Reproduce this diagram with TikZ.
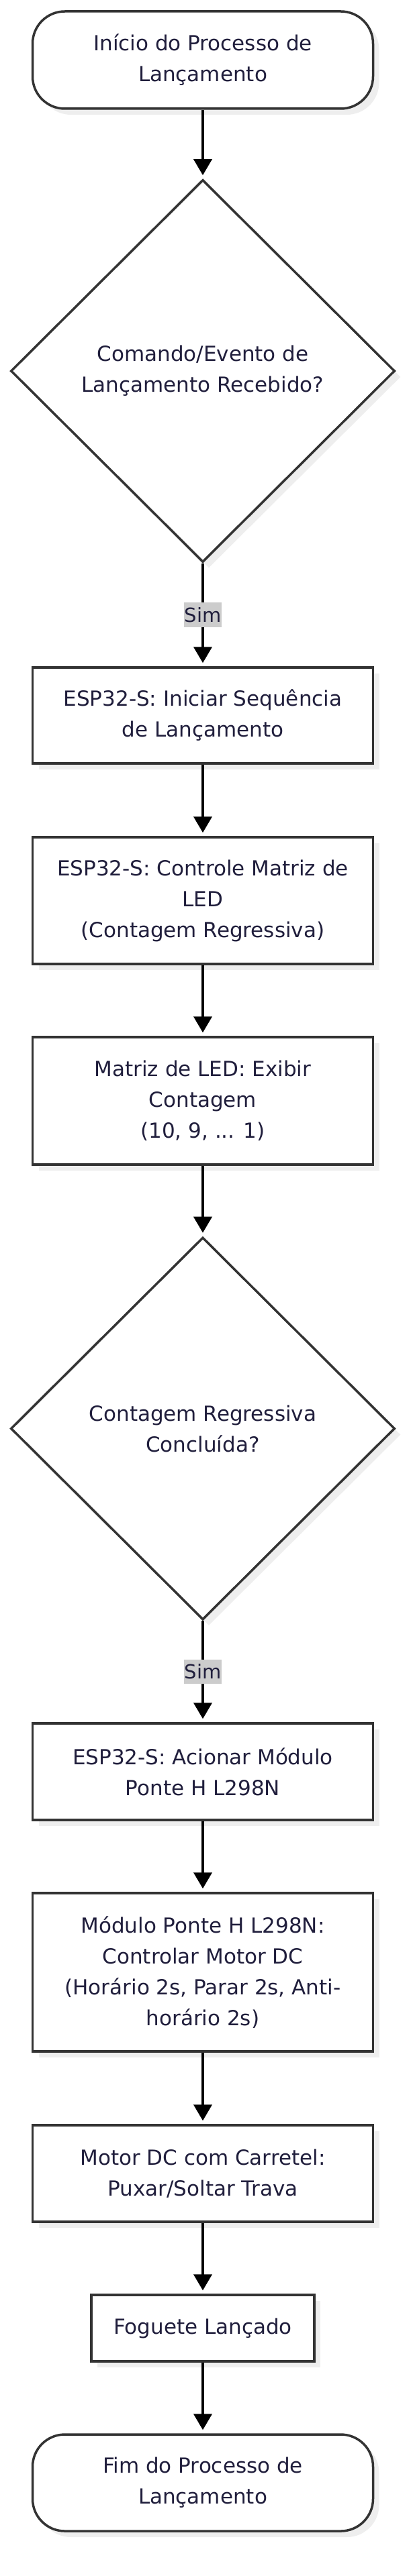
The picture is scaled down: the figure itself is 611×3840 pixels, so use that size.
\documentclass[tikz,border=0pt]{standalone}
\usepackage{fontspec}
\setmainfont{DejaVu Sans}
\usetikzlibrary{shapes.geometric,arrows.meta,shadows}
\definecolor{edgeline}{RGB}{51,51,51}
\definecolor{labeltext}{RGB}{32,30,60}
\definecolor{simgray}{RGB}{204,204,204}
\definecolor{shadowgray}{RGB}{238,238,238}
\begin{document}
\begin{tikzpicture}[x=1pt,y=-1pt, % Fluxo de lancamento
   base/.style={draw=edgeline,line width=3.5pt,fill=white,text=labeltext,align=center,inner sep=0pt,
      font=\fontsize{31}{46}\selectfont,
      drop shadow={shadow xshift=9pt,shadow yshift=-9pt,fill=shadowgray,opacity=1}},
   terminal/.style={base,rectangle,rounded corners=48pt,minimum width=507pt},
   stepbox/.style={base,rectangle,minimum width=507pt},
   decision/.style={base,diamond,minimum width=572pt,minimum height=570pt},
   flow/.style={line width=4pt,-{Triangle[length=24pt,width=27pt]},shorten >=5pt},
   yes/.style={fill=simgray,text=labeltext,inner xsep=1pt,inner ysep=7pt,font=\fontsize{29}{34}\selectfont}]
   \useasboundingbox (0,0) rectangle (611,3840);
   \node[terminal,minimum height=145pt] (inicio) at (302,89.5) {Início do Processo de\\Lançamento};
   \node[decision] (comando) at (302,553) {Comando/Evento de\\Lançamento Recebido?};
   \node[stepbox,minimum height=143pt] (iniciar) at (302,1066.5) {ESP32-S: Iniciar Sequência\\de Lançamento};
   \node[stepbox,minimum height=189pt] (controle) at (302,1342.5) {ESP32-S: Controle Matriz de\\LED\\(Contagem Regressiva)};
   \node[stepbox,minimum height=190pt] (exibir) at (302,1641) {Matriz de LED: Exibir\\Contagem\\(10, 9, ... 1)};
   \node[decision] (concluida) at (302,2129.5) {Contagem Regressiva\\Concluída?};
   \node[stepbox,minimum height=144pt] (acionar) at (302,2641) {ESP32-S: Acionar Módulo\\Ponte H L298N};
   \node[stepbox,minimum height=236pt] (ponteh) at (302,2940) {Módulo Ponte H L298N:\\Controlar Motor DC\\(Horário 2s, Parar 2s, Anti-\\horário 2s)};
   \node[stepbox,minimum height=144pt] (motor) at (302,3240) {Motor DC com Carretel:\\Puxar/Soltar Trava};
   \node[stepbox,minimum width=332pt,minimum height=99pt] (foguete) at (302,3470.5) {Foguete Lançado};
   \node[terminal,minimum height=144pt] (fim) at (302,3701) {Fim do Processo de\\Lançamento};
   \draw[flow] (inicio) -- (comando);
   \draw[flow] (comando) -- node[yes] (sim1) {Sim} (iniciar);
   \draw[flow] (iniciar) -- (controle);
   \draw[flow] (controle) -- (exibir);
   \draw[flow] (exibir) -- (concluida);
   \draw[flow] (concluida) -- node[yes] (sim2) {Sim} (acionar);
   \draw[flow] (acionar) -- (ponteh);
   \draw[flow] (ponteh) -- (motor);
   \draw[flow] (motor) -- (foguete);
   \draw[flow] (foguete) -- (fim);
\end{tikzpicture}
\end{document}
